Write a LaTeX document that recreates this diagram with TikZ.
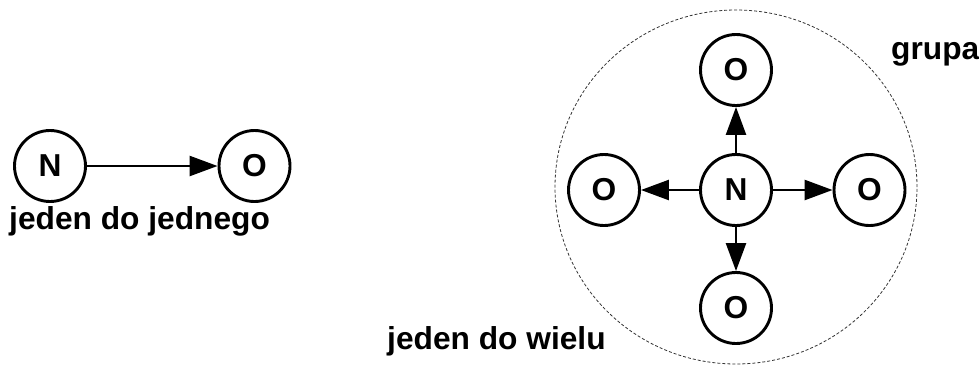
\documentclass[tikz,border=0pt]{standalone}
\usepackage{fontspec}
\setmainfont{Liberation Sans}
\usepackage{tikz}
\usetikzlibrary{arrows.meta}

\begin{document}
\begin{tikzpicture}[x=1pt, y=-1pt,
  obj/.style={circle, draw=black, line width=2.9pt,
    minimum size=71pt, inner sep=0pt,
    font=\fontsize{31.7}{36}\selectfont\bfseries},
  lbl/.style={anchor=base west, inner sep=0pt,
    font=\fontsize{31.7}{36}\selectfont\bfseries},
  arr/.style={-{Triangle[length=28pt, width=20pt]}, draw=black, line width=2.5pt},
  grp/.style={draw=black!80, line width=0.8pt, dash pattern=on 3pt off 2pt}
]
\useasboundingbox (0,0) rectangle (979,365);

%% --- one to one ---
\node[obj] (N1) at (50,166) {N};
\node[obj] (O1) at (254.5,166) {O};
\node[lbl] (L1) at (9,229) {jeden do jednego};
\draw[arr] (N1)--(O1);

%% --- one to many ---
\draw[grp] (736,187) ellipse [x radius=181pt, y radius=177pt];
\node[obj] (N2) at (736,190) {N};
\node[obj] (OT) at (736,70)  {O};
\node[obj] (OL) at (604,190) {O};
\node[obj] (OR) at (869.5,190) {O};
\node[obj] (OB) at (736,308) {O};
\node[lbl] (L2) at (387,349) {jeden do wielu};
\node[lbl] (L3) at (891,59) {grupa};

\draw[arr] (N2)--(OT); \draw[arr] (N2)--(OL);
\draw[arr] (N2)--(OR); \draw[arr] (N2)--(OB);

\end{tikzpicture}
\end{document}
